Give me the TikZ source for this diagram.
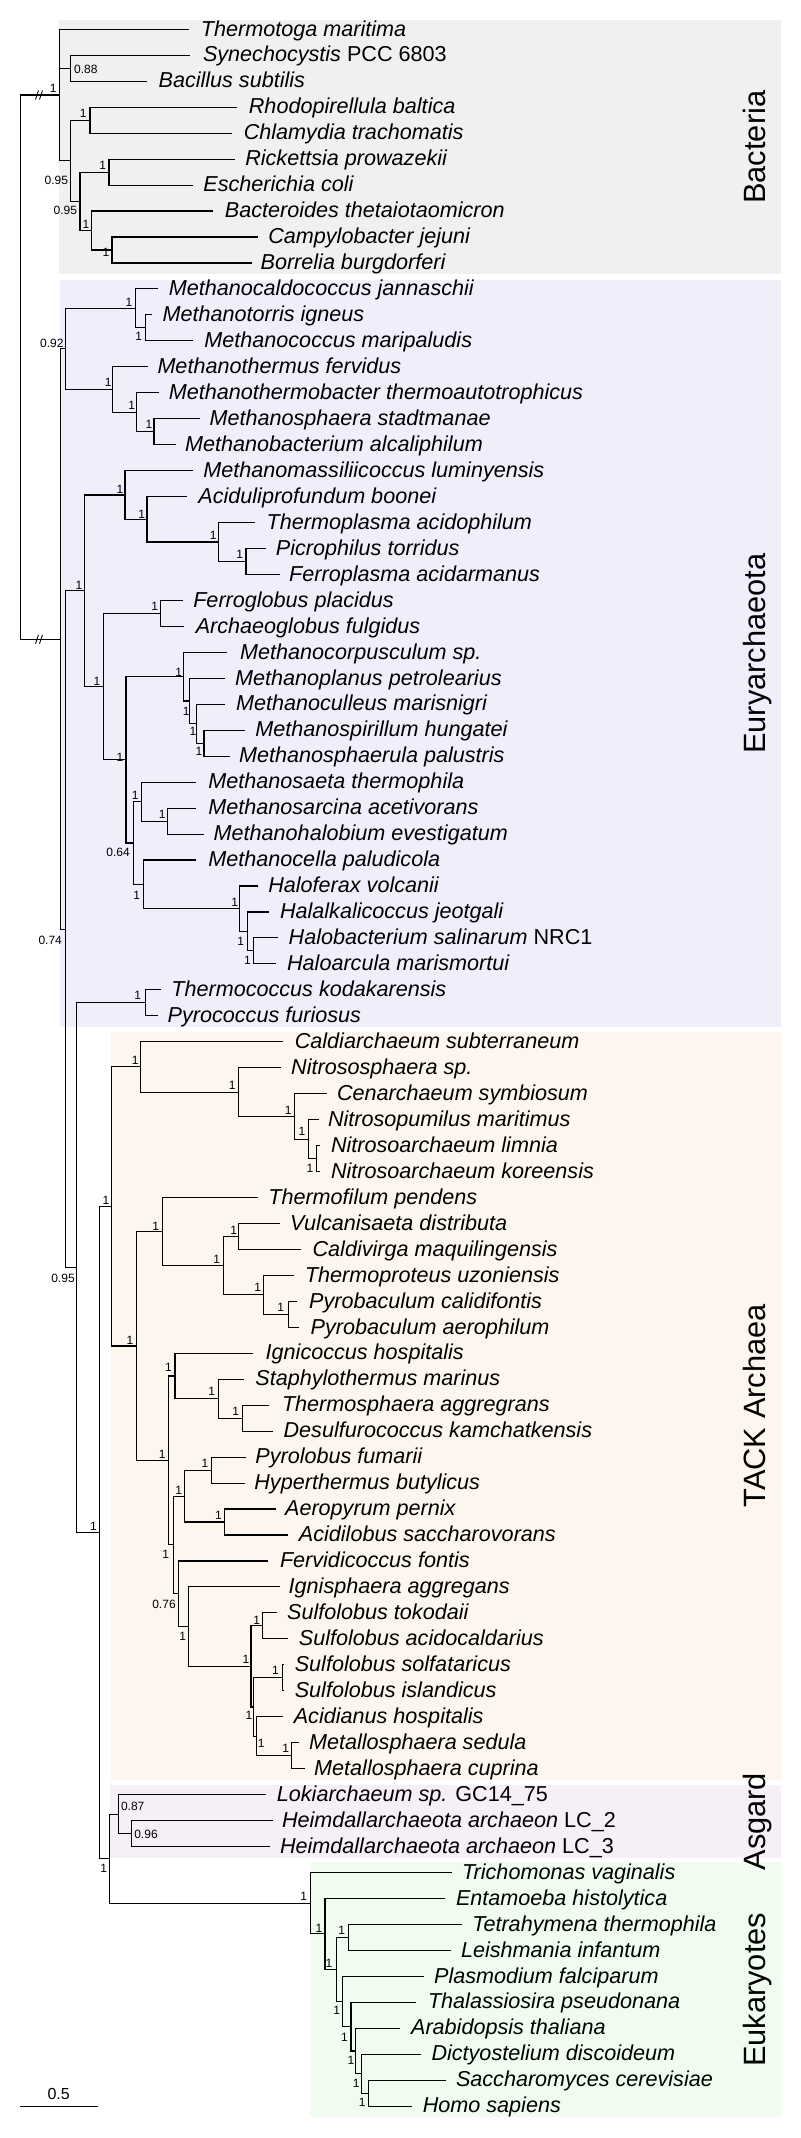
\documentclass[tikz,border=0pt]{standalone}
\usepackage{fontspec}
\setmainfont{Liberation Sans}
\usetikzlibrary{calc}
\definecolor{cbact}{RGB}{240,240,240}
\definecolor{ceury}{RGB}{239,239,252}
\definecolor{ctack}{RGB}{253,246,238}
\definecolor{casg}{RGB}{246,239,248}
\definecolor{ceuk}{RGB}{239,252,239}
\tikzset{
  br/.style={line width=0.55pt},
  brk/.style={line width=0.45pt},
  lab/.style={inner sep=0pt, anchor=base west, font=\fontsize{10.8}{12}\selectfont\itshape},
  sup/.style={inner sep=0pt, font=\fontsize{6}{7}\selectfont},
  clade/.style={inner sep=0pt, rotate=90, anchor=base, font=\fontsize{15.4}{18}\selectfont},
  scl/.style={inner sep=0pt, font=\fontsize{8}{9}\selectfont},
}
% leaf: name, index, end x, text x, text
\newcommand\leaf[5]{%
  \coordinate (#1) at (#3,{29.3+25.96*#2});
  \node[lab] (#1t) at (#4,{36.0+25.96*#2}) {#5};}
% internal node: name, x, first child, last child
\newcommand\nd[4]{%
  \path let \p3=($(#3)!0.5!(#4)$) in coordinate (#1) at ({#2*0.5pt},\y3);
  \draw[br] (#1) |- (#3);
  \draw[br] (#1) |- (#4);}
\newcommand\sv[4]{\node[sup] (s#1) at (#2,#3) {#4};}
\begin{document}
\begin{tikzpicture}[x=0.5pt,y=-0.5pt]
\useasboundingbox (0,0) rectangle (800,2138);
% clade boxes
\fill[cbact] (59.3,20) rectangle (780.6,274.3);
\fill[ceury] (60.2,280) rectangle (780.6,1027.3);
\fill[ctack] (111.2,1031.7) rectangle (780.6,1780);
\fill[casg] (109.7,1785) rectangle (780.6,1858.3);
\fill[ceuk] (310.2,1862.3) rectangle (780.6,2117.3);
% clade labels
\node[clade] (lbact) at (765,147.2) {Bacteria};
\node[clade] (leury) at (765,653.7) {Euryarchaeota};
\node[clade] (ltack) at (765,1405.8) {TACK Archaea};
\node[clade] (lasg) at (765,1821.7) {Asgard};
\node[clade] (leuk) at (765,1989.8) {Eukaryotes};
% leaves
\leaf{L0}{0}{188.8}{200.5}{Thermotoga maritima}
\leaf{L1}{1}{189.8}{202.6}{Synechocystis {\upshape PCC 6803}}
\leaf{L2}{2}{147}{158.2}{Bacillus subtilis}
\leaf{L3}{3}{237.2}{248.5}{Rhodopirellula baltica}
\leaf{L4}{4}{232.1}{243.4}{Chlamydia trachomatis}
\leaf{L5}{5}{234.7}{244.9}{Rickettsia prowazekii}
\leaf{L6}{6}{192.9}{203}{Escherichia coli}
\leaf{L7}{7}{213.3}{224.5}{Bacteroides thetaiotaomicron}
\leaf{L8}{8}{257.7}{267.9}{Campylobacter jejuni}
\leaf{L9}{9}{251.5}{260.2}{Borrelia burgdorferi}
\leaf{L10}{10}{158.2}{168.4}{Methanocaldococcus jannaschii}
\leaf{L11}{11}{152}{162.2}{Methanotorris igneus}
\leaf{L12}{12}{192.9}{204}{Methanococcus maripaludis}
\leaf{L13}{13}{148}{157.1}{Methanothermus fervidus}
\leaf{L14}{14}{159.2}{168.4}{Methanothermobacter thermoautotrophicus}
\leaf{L15}{15}{200}{209.2}{Methanosphaera stadtmanae}
\leaf{L16}{16}{176}{184.7}{Methanobacterium alcaliphilum}
\leaf{L17}{17}{192.9}{203}{Methanomassiliicoccus luminyensis}
\leaf{L18}{18}{186.7}{198}{Aciduliprofundum boonei}
\leaf{L19}{19}{255}{266.3}{Thermoplasma acidophilum}
\leaf{L20}{20}{266.3}{275.5}{Picrophilus torridus}
\leaf{L21}{21}{279.6}{288.8}{Ferroplasma acidarmanus}
\leaf{L22}{22}{182.7}{192.9}{Ferroglobus placidus}
\leaf{L23}{23}{183.7}{195.4}{Archaeoglobus fulgidus}
\leaf{L24}{24}{227}{239.8}{Methanocorpusculum sp.}
\leaf{L25}{25}{224.5}{234.7}{Methanoplanus petrolearius}
\leaf{L26}{26}{224.5}{235.7}{Methanoculleus marisnigri}
\leaf{L27}{27}{245}{255}{Methanospirillum hungatei}
\leaf{L28}{28}{229.6}{238.8}{Methanosphaerula palustris}
\leaf{L29}{29}{196.4}{208}{Methanosaeta thermophila}
\leaf{L30}{30}{196.4}{208}{Methanosarcina acetivorans}
\leaf{L31}{31}{204}{213.3}{Methanohalobium evestigatum}
\leaf{L32}{32}{196.4}{208}{Methanocella paludicola}
\leaf{L33}{33}{257.7}{267.9}{Haloferax volcanii}
\leaf{L34}{34}{269.4}{279.6}{Halalkalicoccus jeotgali}
\leaf{L35}{35}{278}{288.3}{Halobacterium salinarum {\upshape NRC1}}
\leaf{L36}{36}{275.5}{286.7}{Haloarcula marismortui}
\leaf{L37}{37}{160.7}{171}{Thermococcus kodakarensis}
\leaf{L38}{38}{158}{167.3}{Pyrococcus furiosus}
\leaf{L39}{39}{283.2}{294.4}{Caldiarchaeum subterraneum}
\leaf{L40}{40}{280.6}{290.8}{Nitrososphaera sp.}
\leaf{L41}{41}{326.5}{336.7}{Cenarchaeum symbiosum}
\leaf{L42}{42}{318.9}{327.6}{Nitrosopumilus maritimus}
\leaf{L43}{43}{320.4}{330.6}{Nitrosoarchaeum limnia}
\leaf{L44}{44}{320.4}{330.6}{Nitrosoarchaeum koreensis}
\leaf{L45}{45}{257.7}{267.9}{Thermofilum pendens}
\leaf{L46}{46}{279.6}{289.8}{Vulcanisaeta distributa}
\leaf{L47}{47}{301}{312.2}{Caldivirga maquilingensis}
\leaf{L48}{48}{294.4}{304.6}{Thermoproteus uzoniensis}
\leaf{L49}{49}{297}{308.7}{Pyrobaculum calidifontis}
\leaf{L50}{50}{298.5}{310.2}{Pyrobaculum aerophilum}
\leaf{L51}{51}{252.6}{265.3}{Ignicoccus hospitalis}
\leaf{L52}{52}{243.9}{255}{Staphylothermus marinus}
\leaf{L53}{53}{269.4}{281.6}{Thermosphaera aggregrans}
\leaf{L54}{54}{273}{283.2}{Desulfurococcus kamchatkensis}
\leaf{L55}{55}{246}{255}{Pyrolobus fumarii}
\leaf{L56}{56}{245}{254}{Hyperthermus butylicus}
\leaf{L57}{57}{275.5}{284.7}{Aeropyrum pernix}
\leaf{L58}{58}{288.3}{298.5}{Acidilobus saccharovorans}
\leaf{L59}{59}{268}{279.6}{Fervidicoccus fontis}
\leaf{L60}{60}{279.6}{288.3}{Ignisphaera aggregans}
\leaf{L61}{61}{276.5}{286.7}{Sulfolobus tokodaii}
\leaf{L62}{62}{288.3}{298.5}{Sulfolobus acidocaldarius}
\leaf{L63}{63}{283.7}{294.4}{Sulfolobus solfataricus}
\leaf{L64}{64}{283.7}{294.4}{Sulfolobus islandicus}
\leaf{L65}{65}{283.2}{293.4}{Acidianus hospitalis}
\leaf{L66}{66}{298.5}{308.7}{Metallosphaera sedula}
\leaf{L67}{67}{305}{313.8}{Metallosphaera cuprina}
\leaf{L68}{68}{266.3}{276.5}{Lokiarchaeum sp. {\upshape GC14\_75}}
\leaf{L69}{69}{273}{281.6}{Heimdallarchaeota archaeon {\upshape LC\_2}}
\leaf{L70}{70}{270.4}{279.6}{Heimdallarchaeota archaeon {\upshape LC\_3}}
\leaf{L71}{71}{451.5}{461.7}{Trichomonas vaginalis}
\leaf{L72}{72}{444.9}{455.6}{Entamoeba histolytica}
\leaf{L73}{73}{461.7}{471.9}{Tetrahymena thermophila}
\leaf{L74}{74}{451}{460.7}{Leishmania infantum}
\leaf{L75}{75}{423.5}{433.7}{Plasmodium falciparum}
\leaf{L76}{76}{415.8}{427.6}{Thalassiosira pseudonana}
\leaf{L77}{77}{399.5}{410.7}{Arabidopsis thaliana}
\leaf{L78}{78}{420.9}{431.1}{Dictyostelium discoideum}
\leaf{L79}{79}{446.4}{455.6}{Saccharomyces cerevisiae}
\leaf{L80}{80}{412.2}{422.4}{Homo sapiens}
% Bacteria
\nd{B1}{70.7}{L1}{L2}
\nd{R}{90}{L3}{L4}
\nd{E}{109}{L5}{L6}
\nd{C}{112}{L8}{L9}
\nd{D}{91.7}{L7}{C}
\nd{B3}{80}{E}{D}
\nd{B2}{70.7}{R}{B3}
\nd{B0}{59.3}{L0}{B2}
\draw[br] (B0) |- (B1);
% Euryarchaeota
\nd{M2}{145.4}{L11}{L12}
\nd{M1}{135.2}{L10}{M2}
\nd{M5}{154}{L15}{L16}
\nd{M4}{136.7}{L14}{M5}
\nd{M3}{112.2}{L13}{M4}
\nd{M0}{65.3}{M1}{M3}
\nd{T3}{246}{L20}{L21}
\nd{T2}{218.4}{L19}{T3}
\nd{T1}{147}{L18}{T2}
\nd{T0}{125}{L17}{T1}
\nd{AG}{160.7}{L22}{L23}
\nd{MM3}{204}{L27}{L28}
\nd{MM2}{196.4}{L26}{MM3}
\nd{MM1}{189.8}{L25}{MM2}
\nd{MM}{183.7}{L24}{MM1}
\nd{MSb}{167.4}{L30}{L31}
\nd{MSa}{141.8}{L29}{MSb}
\nd{H2}{253.6}{L35}{L36}
\nd{H1}{247.4}{L34}{H2}
\nd{H0}{239.8}{L33}{H1}
\nd{MC}{143.9}{L32}{H0}
\nd{MS}{133.7}{MSa}{MC}
\nd{E3}{126}{MM}{MS}
\nd{E2}{103.6}{AG}{E3}
\nd{E1}{84.2}{T0}{E2}
\nd{TC}{145.4}{L37}{L38}
% TACK
\nd{TK5}{316.3}{L43}{L44}
\nd{TK4}{308.7}{L42}{TK5}
\nd{TK3}{294.4}{L41}{TK4}
\nd{TK2}{238.3}{L40}{TK3}
\nd{TK1}{140.3}{L39}{TK2}
\nd{TP5}{288.3}{L49}{L50}
\nd{TP4}{263.8}{L48}{TP5}
\nd{TP3}{238.8}{L46}{L47}
\nd{TP2}{223.5}{TP3}{TP4}
\nd{TP}{162.2}{L45}{TP2}
\nd{D4}{242.3}{L53}{L54}
\nd{D3}{218.4}{L52}{D4}
\nd{D1}{175}{L51}{D3}
\nd{D6}{211.7}{L55}{L56}
\nd{D7}{224.5}{L57}{L58}
\nd{D5}{184.7}{D6}{D7}
\nd{SL1}{262.8}{L61}{L62}
\nd{SL3}{282.1}{L63}{L64}
\nd{SL5}{291.8}{L66}{L67}
\nd{SL4}{256.1}{L65}{SL5}
\nd{SL2}{253.6}{SL3}{SL4}
\nd{SL}{251}{SL1}{SL2}
\nd{S0}{188.8}{L60}{SL}
\nd{D9}{178.6}{L59}{S0}
\nd{D8}{173.5}{D5}{D9}
\nd{DC}{168.4}{D1}{D8}
\nd{TR2}{136.7}{TP}{DC}
\nd{TR}{111.2}{TK1}{TR2}
% Asgard and eukaryotes
\nd{AS2}{131.6}{L69}{L70}
\nd{AS}{118.4}{L68}{AS2}
\nd{E9}{368.4}{L79}{L80}
\nd{E8}{361.2}{L78}{E9}
\nd{E7}{355.6}{L77}{E8}
\nd{E6}{351}{L76}{E7}
\nd{E5}{342.9}{L75}{E6}
\nd{EU4}{348.5}{L73}{L74}
\nd{EU3}{336.7}{EU4}{E5}
\nd{EU2}{325}{L72}{EU3}
\nd{EU}{310.2}{L71}{EU2}
\nd{AE}{109.7}{AS}{EU}
\nd{Z}{99.5}{TR}{AE}
\nd{Y}{76.5}{TC}{Z}
\nd{X}{65.3}{E1}{Y}
\nd{A0}{60.2}{M0}{X}
\nd{root}{20.4}{B0}{A0}
% break marks
\draw[brk] (35.5,{95+4.5}) -- (38.5,{95-4.5}) (39.5,{95+4.5}) -- (42.5,{95-4.5});
\draw[brk] (35.5,{639.2+4.5}) -- (38.5,{639.2-4.5}) (39.5,{639.2+4.5}) -- (42.5,{639.2-4.5});
% support values
\sv{B0}{53.3}{88.3}{1}
\sv{B1}{85.8}{69.3}{0.88}
\sv{B2}{56.3}{180}{0.95}
\sv{B3}{65.3}{210.7}{0.95}
\sv{R}{83.3}{113.3}{1}
\sv{E}{102.7}{165}{1}
\sv{D}{86}{224}{1}
\sv{C}{106}{252.7}{1}
\sv{M0}{51.8}{343.3}{0.92}
\sv{M1}{129}{302.3}{1}
\sv{M2}{138.8}{336.7}{1}
\sv{M3}{108.2}{382.7}{1}
\sv{M4}{131.6}{405}{1}
\sv{M5}{149}{424.3}{1}
\sv{T0}{120}{489.3}{1}
\sv{T1}{141.8}{514}{1}
\sv{T2}{213.3}{535}{1}
\sv{T3}{239.8}{554.3}{1}
\sv{E1}{79}{585}{1}
\sv{AG}{154.6}{606.7}{1}
\sv{MM}{178.6}{672.3}{1}
\sv{E2}{97}{681.7}{1}
\sv{MM1}{186.2}{711.7}{1}
\sv{MM2}{192.9}{731.7}{1}
\sv{MM3}{199}{751.7}{1}
\sv{E3}{120}{757.7}{1}
\sv{MSa}{135.2}{795}{1}
\sv{MSb}{162.2}{814.3}{1}
\sv{MS}{118.1}{852.7}{0.64}
\sv{MC}{136.7}{895}{1}
\sv{H0}{234.7}{902.7}{1}
\sv{X}{50.2}{940}{0.74}
\sv{H1}{240.8}{941.7}{1}
\sv{H2}{247.4}{960}{1}
\sv{TC}{137.8}{995.7}{1}
\sv{TK1}{135.2}{1060}{1}
\sv{TK2}{232.1}{1085}{1}
\sv{TK3}{288.3}{1110}{1}
\sv{TK4}{302}{1131}{1}
\sv{TK5}{310}{1168}{1}
\sv{TR}{106}{1200}{1}
\sv{TP}{155.6}{1226.7}{1}
\sv{TP3}{233.7}{1230}{1}
\sv{TP2}{216.8}{1259.3}{1}
\sv{Y}{63}{1278.3}{0.95}
\sv{TP4}{257.7}{1287.3}{1}
\sv{TP5}{280.6}{1307.3}{1}
\sv{TR2}{130}{1340}{1}
\sv{D1}{168.4}{1367.5}{1}
\sv{D3}{211.7}{1391}{1}
\sv{D4}{235.7}{1411.7}{1}
\sv{DC}{162.2}{1454.3}{1}
\sv{D6}{205}{1463.3}{1}
\sv{D5}{178.6}{1490}{1}
\sv{D7}{218.4}{1515}{1}
\sv{Z}{93.4}{1526.7}{1}
\sv{D8}{165.8}{1554.3}{1}
\sv{D9}{164}{1604}{0.76}
\sv{SL1}{256.6}{1620}{1}
\sv{S0}{182.7}{1636.7}{1}
\sv{SL}{246}{1659.3}{1}
\sv{SL3}{275.5}{1670}{1}
\sv{SL2}{249}{1715}{1}
\sv{SL4}{261.2}{1743.3}{1}
\sv{SL5}{285.7}{1748.3}{1}
\sv{AS}{132.7}{1806.7}{0.87}
\sv{AS2}{146}{1834.3}{0.96}
\sv{AE}{103.6}{1868.3}{1}
\sv{EU}{303.6}{1896.7}{1}
\sv{EU2}{318.9}{1928.3}{1}
\sv{EU4}{341.8}{1930}{1}
\sv{EU3}{329}{1963.3}{1}
\sv{E5}{336.7}{2010.7}{1}
\sv{E6}{344.4}{2037.3}{1}
\sv{E7}{351}{2060}{1}
\sv{E8}{356.1}{2083.3}{1}
\sv{E9}{362.2}{2102.7}{1}
% scale bar
\coordinate (sb1) at (20.4,2106.7);
\coordinate (sb2) at (98,2106.7);
\draw[br] (sb1) -- (sb2);
\node[scl] (sbl) at (58.7,2094) {0.5};
\end{tikzpicture}
\end{document}
